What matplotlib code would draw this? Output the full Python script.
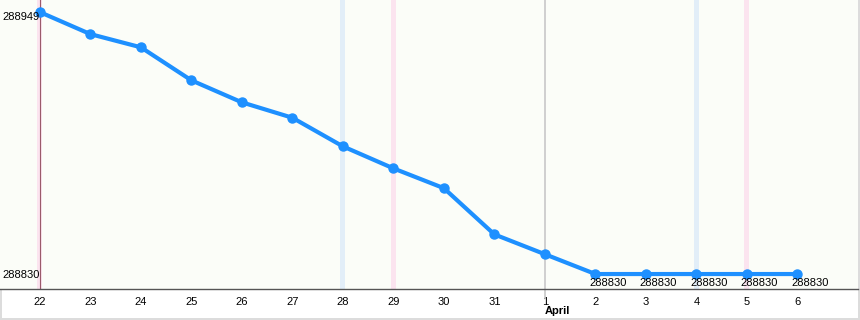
import matplotlib
matplotlib.use('Agg')
import matplotlib.pyplot as plt
import numpy as np

plt.rcParams['font.family'] = ['Liberation Sans', 'DejaVu Sans']

# data
days = ['22', '23', '24', '25', '26', '27', '28', '29', '30', '31',
        '1', '2', '3', '4', '5', '6']
values = [288949, 288939, 288933, 288918, 288908, 288901, 288888, 288878,
          288869, 288848, 288839, 288830, 288830, 288830, 288830, 288830]
saturdays = ['28', '4']
sundays = ['22', '29', '5']
month_start = '1'
month_name = 'April'
labelled_days = ['2', '3', '4', '5', '6']

x = np.arange(len(days))

W = 8.6
H = 3.2
fig = plt.figure(figsize=(W, H), dpi=100)
fig.patch.set_facecolor('white')
fig.patch.set_edgecolor('#dcdcdc')
fig.patch.set_linewidth(1.5)

ax = fig.add_axes([0.0, 31 / 320, 858 / 860, 289 / 320])
ax.set_facecolor('#fbfdf8')

ax.set_xlim(-0.79, 16.2)
ax.set_ylim(288823.2, 288954.5)

for d in saturdays:
    i = days.index(d)
    ax.axvspan(i - 0.05, i + 0.05, color='#e2eef8', lw=0, zorder=1)
for d in sundays:
    i = days.index(d)
    ax.axvspan(i - 0.05, i + 0.05, color='#fbe4ef', lw=0, zorder=1)

# today marker and month boundary
ax.axvline(0, color='#9a5a6a', lw=0.8, zorder=2)
m = days.index(month_start)
ax.axvline(m, ymin=-0.03, ymax=1, color='#c8c8c8', lw=1.2, zorder=2, clip_on=False)

ax.plot(x, values, color='#1e90ff', lw=3, marker='o', markersize=6.5, zorder=3,
        solid_capstyle='round')

for d in labelled_days:
    i = days.index(d)
    ax.annotate(str(values[i]), (x[i], values[i]), xytext=(-4.3, -6.1),
                textcoords='offset points', ha='left', va='center',
                fontsize=8, color='black')

# y-range labels
ax.annotate(str(max(values)), (0, max(values)), xytext=(-0.3, -3.2),
            textcoords='offset points', ha='right', va='center',
            fontsize=8, color='black')
ax.annotate(str(min(values)), (0, min(values)), xytext=(-0.3, -0.7),
            textcoords='offset points', ha='right', va='center',
            fontsize=8, color='black')

ax.set_xticks(x)
ax.set_xticklabels(days, fontsize=8, color='black')
ax.tick_params(axis='x', length=0, pad=5.5)
ax.set_yticks([])
ax.text(m, -0.076, month_name, transform=ax.get_xaxis_transform(),
        ha='left', va='center', fontsize=8, fontweight='bold', color='black')

for s in ['top', 'right', 'left']:
    ax.spines[s].set_visible(False)
ax.spines['bottom'].set_color('#555555')
ax.spines['bottom'].set_linewidth(1)

plt.savefig('out.png', dpi=100)
